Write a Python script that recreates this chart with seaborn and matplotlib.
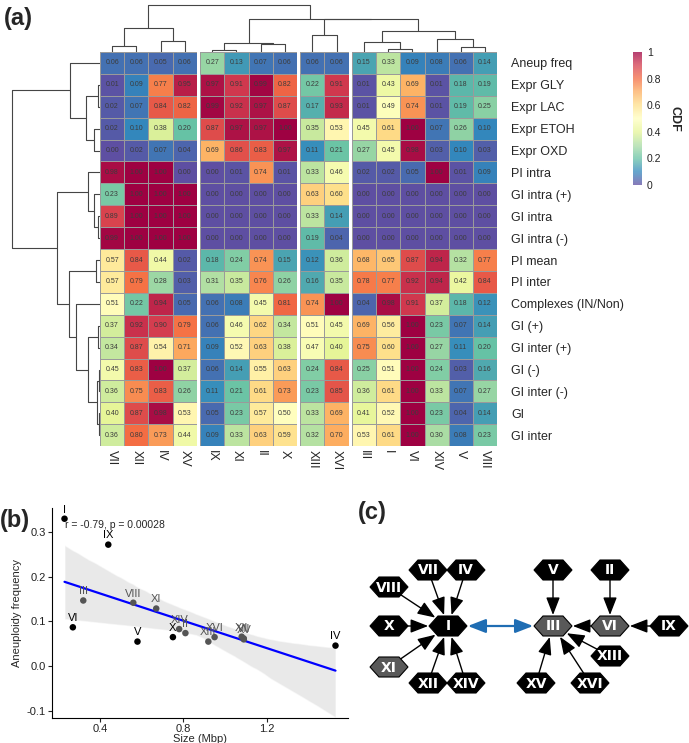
import numpy as np
import pandas as pd
import matplotlib
matplotlib.use("Agg")
import matplotlib.pyplot as plt
import seaborn as sns
from matplotlib.patches import Polygon, FancyArrowPatch

# -----------------------------
# Data
# -----------------------------
chromosomes = ["VII", "XII", "IV", "XV", "IX", "XI", "II", "X",
               "XIII", "XVI", "III", "I", "VI", "XIV", "V", "VIII"]
col_split = [4, 4, 2, 6]

row_labels = ["Aneup freq", "Expr GLY", "Expr LAC", "Expr ETOH", "Expr OXD",
              "PI intra", "GI intra (+)", "GI intra", "GI intra (-)",
              "PI mean", "PI inter", "Complexes (IN/Non)", "GI (+)",
              "GI inter (+)", "GI (-)", "GI inter (-)", "GI", "GI inter"]

aneup_freq = [0.06, 0.06, 0.05, 0.06, 0.27, 0.13, 0.07, 0.06, 0.06, 0.06, 0.15, 0.33, 0.09, 0.08, 0.06, 0.14]
expr_gly = [0.01, 0.09, 0.77, 0.95, 0.97, 0.91, 0.99, 0.82, 0.22, 0.91, 0.01, 0.43, 0.69, 0.01, 0.18, 0.19]
expr_lac = [0.02, 0.07, 0.84, 0.82, 0.99, 0.92, 0.97, 0.87, 0.17, 0.93, 0.01, 0.49, 0.74, 0.01, 0.19, 0.25]
expr_etoh = [0.02, 0.10, 0.38, 0.20, 0.87, 0.97, 0.97, 1.00, 0.35, 0.53, 0.45, 0.61, 1.00, 0.07, 0.26, 0.10]
expr_oxd = [0.00, 0.02, 0.07, 0.04, 0.69, 0.86, 0.83, 0.97, 0.11, 0.21, 0.27, 0.45, 0.98, 0.03, 0.10, 0.03]
pi_intra = [0.98, 1.00, 1.00, 0.00, 0.00, 0.01, 0.74, 0.01, 0.33, 0.46, 0.02, 0.02, 0.05, 1.00, 0.01, 0.09]
gi_intra_pos = [0.23, 1.00, 1.00, 1.00, 0.00, 0.00, 0.00, 0.00, 0.63, 0.60, 0.00, 0.00, 0.00, 0.00, 0.00, 0.00]
gi_intra = [0.89, 1.00, 1.00, 1.00, 0.00, 0.00, 0.00, 0.00, 0.33, 0.14, 0.00, 0.00, 0.00, 0.00, 0.00, 0.00]
gi_intra_neg = [0.99, 1.00, 1.00, 1.00, 0.00, 0.00, 0.00, 0.00, 0.19, 0.04, 0.00, 0.00, 0.00, 0.00, 0.00, 0.00]
pi_mean = [0.57, 0.84, 0.44, 0.02, 0.18, 0.24, 0.74, 0.15, 0.12, 0.36, 0.68, 0.65, 0.87, 0.94, 0.32, 0.77]
pi_inter = [0.57, 0.79, 0.28, 0.03, 0.31, 0.35, 0.76, 0.26, 0.16, 0.35, 0.78, 0.77, 0.92, 0.94, 0.42, 0.84]
complexes = [0.51, 0.22, 0.94, 0.05, 0.06, 0.08, 0.45, 0.81, 0.74, 1.00, 0.04, 0.98, 0.91, 0.37, 0.18, 0.12]
gi_pos = [0.37, 0.92, 0.90, 0.79, 0.06, 0.46, 0.62, 0.34, 0.51, 0.45, 0.69, 0.56, 1.00, 0.23, 0.07, 0.14]
gi_inter_pos = [0.34, 0.87, 0.54, 0.71, 0.09, 0.52, 0.63, 0.38, 0.47, 0.40, 0.75, 0.60, 1.00, 0.27, 0.11, 0.20]
gi_neg = [0.45, 0.83, 1.00, 0.37, 0.06, 0.14, 0.55, 0.63, 0.24, 0.84, 0.25, 0.51, 1.00, 0.24, 0.03, 0.16]
gi_inter_neg = [0.36, 0.75, 0.83, 0.26, 0.11, 0.21, 0.61, 0.73, 0.23, 0.85, 0.36, 0.61, 1.00, 0.33, 0.07, 0.27]
gi_all = [0.40, 0.87, 0.98, 0.53, 0.05, 0.23, 0.57, 0.50, 0.33, 0.69, 0.41, 0.52, 1.00, 0.23, 0.04, 0.14]
gi_inter = [0.36, 0.80, 0.73, 0.44, 0.09, 0.33, 0.63, 0.59, 0.32, 0.70, 0.53, 0.61, 1.00, 0.30, 0.08, 0.23]

# dendrograms: (left, right, merge height)
col_tree = ((("VII", "XII", 6), ("IV", "XV", 11), 24),
            ((("IX", "XI", 1.7), ("II", "X", 7.7), 8.3),
             (("XIII", "XVI", 16.7),
              (("III", ("I", "VI", 2.7), 10), ("XIV", ("V", "VIII", 4.3), 13), 21), 32.3),
             32.7),
            46.7)
gi_block = (("GI (+)", "GI inter (+)", 1.7),
            (("GI (-)", "GI inter (-)", 1.5), ("GI", "GI inter", 1.5), 2.7), 12.3)
row_tree = (("Aneup freq", (("Expr GLY", "Expr LAC", 2), ("Expr ETOH", "Expr OXD", 6), 14), 30),
            (("PI intra", ("GI intra (+)", ("GI intra", "GI intra (-)", 2), 6), 12),
             (("PI mean", "PI inter", 4), ("Complexes (IN/Non)", gi_block, 24), 30.7),
             43.3),
            88)

# panel (b)
chrom_b = ["I", "II", "III", "IV", "V", "VI", "VII", "VIII",
           "IX", "X", "XI", "XII", "XIII", "XIV", "XV", "XVI"]
size_mbp = [0.23, 0.81, 0.32, 1.53, 0.58, 0.27, 1.09, 0.56,
            0.44, 0.75, 0.67, 1.08, 0.92, 0.78, 1.09, 0.95]
aneup_b = [0.330, 0.074, 0.147, 0.046, 0.055, 0.087, 0.062, 0.142,
           0.272, 0.065, 0.129, 0.066, 0.055, 0.083, 0.060, 0.065]
point_group = ["k", "g", "g", "k", "k", "k", "g", "g",
               "k", "k", "g", "g", "g", "g", "g", "g"]

# panel (c) network
node_names = ["I", "VII", "IV", "VIII", "X", "XI", "XII", "XIV",
              "III", "V", "II", "VI", "IX", "XIII", "XV", "XVI"]
node_x = [448, 428, 466, 389, 389, 389, 428, 466, 553, 553, 610, 610, 669, 610, 536, 590]
node_y = [626, 570, 570, 587, 626, 667, 683, 683, 626, 570, 570, 626, 626, 656, 683, 683]
gray_nodes = ["XI", "III", "VI"]
edges = [("VII", "I"), ("IV", "I"), ("VIII", "I"), ("X", "I"), ("XI", "I"),
         ("XII", "I"), ("XIV", "I"), ("V", "III"), ("VI", "III"), ("XIII", "III"),
         ("XV", "III"), ("XVI", "III"), ("II", "VI"), ("IX", "VI")]

# -----------------------------
# Figure
# -----------------------------
sns.set_style("white")
plt.rcParams["font.family"] = ["Liberation Sans", "DejaVu Sans"]

W, H = 689, 743
fig = plt.figure(figsize=(W / 100, H / 100), dpi=100)


def px_axes(x, y, w, h):
    return fig.add_axes([x / W, 1 - (y + h) / H, w / W, h / H])


ov = px_axes(0, 0, W, H)
ov.set_xlim(0, W)
ov.set_ylim(H, 0)
ov.axis("off")

df = pd.DataFrame([aneup_freq, expr_gly, expr_lac, expr_etoh, expr_oxd, pi_intra,
                   gi_intra_pos, gi_intra, gi_intra_neg, pi_mean, pi_inter, complexes,
                   gi_pos, gi_inter_pos, gi_neg, gi_inter_neg, gi_all, gi_inter],
                  index=row_labels, columns=chromosomes)

hm_x0, hm_y0, cell_w, cell_h, gap = 100, 52, 24.2, 21.9, 3.3
cax = px_axes(633, 52, 9, 133)
col_pos = {}
x = hm_x0
start = 0
for gi, n in enumerate(col_split):
    cols = chromosomes[start:start + n]
    ax = px_axes(x, hm_y0, n * cell_w, len(row_labels) * cell_h)
    last = gi == len(col_split) - 1
    sns.heatmap(df[cols], ax=ax, cmap="Spectral_r", vmin=0, vmax=1,
                annot=True, fmt=".2f", annot_kws={"size": 5, "color": "#3c3c3c"},
                linewidths=0.6, linecolor="#9a9a9a",
                cbar=last, cbar_ax=cax if last else None,
                xticklabels=True, yticklabels=last)
    ax.tick_params(length=0, labelsize=9, pad=3)
    ax.set_xticklabels(cols, rotation=270)
    ax.set_xlabel("")
    if last:
        ax.yaxis.tick_right()
        ax.set_yticklabels(row_labels, rotation=0, ha="left")
        ax.tick_params(axis="y", pad=10)
    for i, c in enumerate(cols):
        col_pos[c] = x + (i + 0.5) * cell_w
    x += n * cell_w + gap
    start += n

cax.tick_params(length=0, labelsize=7.5, colors="#222")
cax.set_yticks([0, 0.2, 0.4, 0.6, 0.8, 1])
cax.set_yticklabels(["0", "0.2", "0.4", "0.6", "0.8", "1"])
for c in cax.collections:
    c.set_alpha(0.75)
cax.set_ylabel("CDF", rotation=270, fontsize=9, fontweight="bold", labelpad=14)
cax.yaxis.set_label_position("right")

row_pos = {r: hm_y0 + (i + 0.5) * cell_h for i, r in enumerate(row_labels)}


def draw_tree(node, pos, base, vertical):
    if isinstance(node, str):
        return pos[node], 0
    a, b, h = node
    pa, ha = draw_tree(a, pos, base, vertical)
    pb, hb = draw_tree(b, pos, base, vertical)
    xs = [pa, pa, pb, pb]
    hs = [base - ha, base - h, base - h, base - hb]
    if vertical:
        ov.plot(xs, hs, color="#454545", lw=0.8)
    else:
        ov.plot(hs, xs, color="#454545", lw=0.8)
    return (pa + pb) / 2, h


draw_tree(col_tree, col_pos, 51.7, True)
draw_tree(row_tree, row_pos, 100, False)

# -----------------------------
# Panel (b)
# -----------------------------
axb = px_axes(52, 508, 296, 210)
sns.regplot(x=size_mbp, y=aneup_b, ax=axb, scatter=False, ci=95, seed=3,
            color="blue", line_kws={"lw": 1.6})
for coll in axb.collections:
    coll.set_facecolor("#d4d4d4")
    coll.set_alpha(0.5)
pal = {"k": "#000000", "g": "#555555"}
sns.scatterplot(x=size_mbp, y=aneup_b, hue=point_group, palette=pal, ax=axb,
                s=22, linewidth=0, legend=False, zorder=4)
for name, sx, sy, g in zip(chrom_b, size_mbp, aneup_b, point_group):
    axb.annotate(name, (sx, sy), xytext=(0, 3), textcoords="offset points",
                 ha="center", va="bottom", fontsize=8, color=pal[g],
                 annotation_clip=False)
axb.text(0.23, 0.316, "r = -0.79, p = 0.00028", fontsize=7.5, ha="left", va="center")
axb.set_xlim(0.17, 1.59)
axb.set_ylim(-0.116, 0.354)
axb.set_xticks([0.4, 0.8, 1.2])
axb.set_yticks([-0.1, 0.0, 0.1, 0.2, 0.3])
axb.set_yticklabels(["-0.1", "0.0", "0.1", "0.2", "0.3"])
axb.set_xlabel("Size (Mbp)", fontsize=8, labelpad=0)
axb.set_ylabel("Aneuploidy frequency", fontsize=8, labelpad=3)
axb.tick_params(labelsize=8, length=3, width=0.8, colors="#222", direction="out",
                left=True, bottom=True, pad=1.5)
sns.despine(ax=axb)
for s in ["left", "bottom"]:
    axb.spines[s].set_color("black")
    axb.spines[s].set_linewidth(0.8)

# -----------------------------
# Panel (c)
# -----------------------------
hw, hh, hs = 19, 10, 10
patches = {}
for name, nx, ny in zip(node_names, node_x, node_y):
    verts = [(nx - hw, ny), (nx - hs, ny - hh), (nx + hs, ny - hh),
             (nx + hw, ny), (nx + hs, ny + hh), (nx - hs, ny + hh)]
    fc = "#595959" if name in gray_nodes else "black"
    poly = Polygon(verts, closed=True, fc=fc, ec="black", lw=0.8, zorder=3)
    ov.add_patch(poly)
    patches[name] = (poly, nx, ny)
    ov.text(nx, ny + 0.5, name, color="white", fontsize=10, fontweight="bold",
            ha="center", va="center", zorder=4,
            family=["Liberation Sans Narrow", "DejaVu Sans"])

for src, dst in edges:
    pa, xa, ya = patches[src]
    pb, xb, yb = patches[dst]
    ov.add_patch(FancyArrowPatch((xa, ya), (xb, yb), patchA=pa, patchB=pb,
                                 arrowstyle="-|>,head_length=0.9,head_width=0.35",
                                 mutation_scale=12, color="black", lw=1.0,
                                 shrinkA=0, shrinkB=1, zorder=2))
pa, xa, ya = patches["I"]
pb, xb, yb = patches["III"]
ov.add_patch(FancyArrowPatch((xa, ya), (xb, yb), patchA=pa, patchB=pb,
                             arrowstyle="<|-|>,head_length=0.9,head_width=0.35",
                             mutation_scale=12, color="#1f6db3", lw=1.6,
                             shrinkA=1, shrinkB=1, zorder=2))

# panel letters
for lbl, lx, ly in [("(a)", 4, 18), ("(b)", 0, 520), ("(c)", 358, 513)]:
    ov.text(lx, ly, lbl, fontsize=17, fontweight="bold", va="center", ha="left")

fig.savefig("out.png", dpi=100)
